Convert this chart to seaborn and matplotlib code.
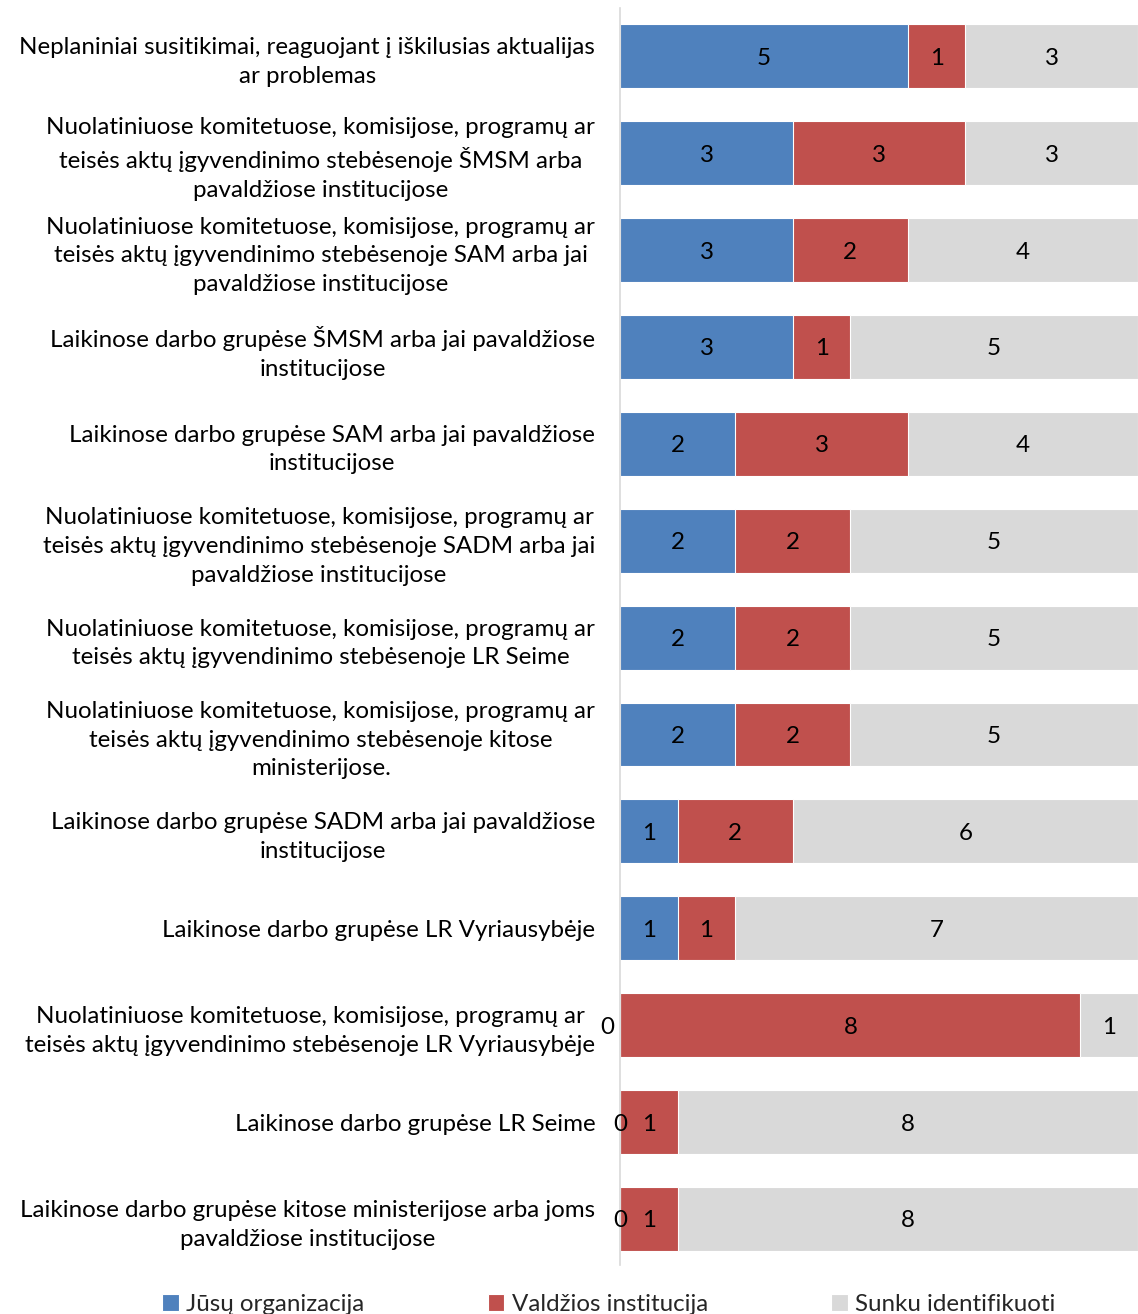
import matplotlib
matplotlib.use("Agg")
import matplotlib.pyplot as plt
import seaborn as sns
import pandas as pd
import numpy as np

categories = [
    "Neplaniniai susitikimai, reaguojant į iškilusias aktualijas\nar problemas",
    "Nuolatiniuose komitetuose, komisijose, programų ar\nteisės aktų įgyvendinimo stebėsenoje ŠMSM arba\npavaldžiose institucijose",
    "Nuolatiniuose komitetuose, komisijose, programų ar\nteisės aktų įgyvendinimo stebėsenoje SAM arba jai\npavaldžiose institucijose",
    "Laikinose darbo grupėse ŠMSM arba jai pavaldžiose\ninstitucijose",
    "Laikinose darbo grupėse SAM arba jai pavaldžiose\ninstitucijose",
    "Nuolatiniuose komitetuose, komisijose, programų ar\nteisės aktų įgyvendinimo stebėsenoje SADM arba jai\npavaldžiose institucijose",
    "Nuolatiniuose komitetuose, komisijose, programų ar\nteisės aktų įgyvendinimo stebėsenoje LR Seime",
    "Nuolatiniuose komitetuose, komisijose, programų ar\nteisės aktų įgyvendinimo stebėsenoje kitose\nministerijose.",
    "Laikinose darbo grupėse SADM arba jai pavaldžiose\ninstitucijose",
    "Laikinose darbo grupėse LR Vyriausybėje",
    "Nuolatiniuose komitetuose, komisijose, programų ar\nteisės aktų įgyvendinimo stebėsenoje LR Vyriausybėje",
    "Laikinose darbo grupėse LR Seime",
    "Laikinose darbo grupėse kitose ministerijose arba joms\npavaldžiose institucijose",
]
jusu_organizacija = [5, 3, 3, 3, 2, 2, 2, 2, 1, 1, 0, 0, 0]
valdzios_institucija = [1, 3, 2, 1, 3, 2, 2, 2, 2, 1, 8, 1, 1]
sunku_identifikuoti = [3, 3, 4, 5, 4, 5, 5, 5, 6, 7, 1, 8, 8]
series_names = ["Jūsų organizacija", "Valdžios institucija", "Sunku identifikuoti"]
colors = ["#4F81BD", "#C0504D", "#D9D9D9"]

sns.set_theme(style="white")
plt.rcParams["font.family"] = ["Lato", "DejaVu Sans"]
FS = 17.4

df = pd.DataFrame({
    "cat": categories,
    "a": jusu_organizacija,
    "b": valdzios_institucija,
    "c": sunku_identifikuoti,
})
df["ab"] = df["a"] + df["b"]
df["abc"] = df["ab"] + df["c"]

fig = plt.figure(figsize=(11.38, 13.14), dpi=100)
ax = fig.add_axes([0.545, 0.037, 0.455, 0.957])

# stacked bars: draw cumulative totals back to front
for col, color, name in [("abc", colors[2], series_names[2]),
                         ("ab", colors[1], series_names[1]),
                         ("a", colors[0], series_names[0])]:
    sns.barplot(data=df, x=col, y="cat", orient="h", color=color,
                saturation=1, width=0.66, edgecolor="white", linewidth=0.8,
                label=name, ax=ax)

# segment value labels
for i in range(len(categories)):
    lefts = [0, df["a"][i], df["ab"][i]]
    vals = [df["a"][i], df["b"][i], df["c"][i]]
    for left, v in zip(lefts, vals):
        x = left + v / 2
        if v == 0 and df["b"][i] > 4:
            x -= 0.22
        ax.text(x, i, str(v), ha="center", va="center_baseline",
                fontsize=FS, color="black")

ax.set_xlim(0, 9)
ax.set_ylim(len(categories) - 0.52, -0.5)
ax.set_xlabel("")
ax.set_ylabel("")
ax.set_xticks([])
for s in ["top", "right", "bottom"]:
    ax.spines[s].set_visible(False)
ax.spines["left"].set_color("#D9D9D9")
ax.spines["left"].set_linewidth(1.2)
ax.tick_params(axis="y", length=0, pad=18)
for lbl in ax.get_yticklabels():
    lbl.set_fontsize(FS)
    lbl.set_multialignment("center")
    lbl.set_linespacing(1.45)
    lbl.set_color("black")

handles, labels = ax.get_legend_handles_labels()
order = [labels.index(n) for n in series_names]
ax.legend([handles[k] for k in order], [labels[k] for k in order],
          loc="center", bbox_to_anchor=(0.535, 0.0075),
          bbox_transform=fig.transFigure, ncol=3, frameon=False,
          fontsize=FS, handlelength=0.7, handleheight=0.7,
          handletextpad=0.3, columnspacing=5.1, borderaxespad=0)

fig.savefig("out.png", dpi=100)
